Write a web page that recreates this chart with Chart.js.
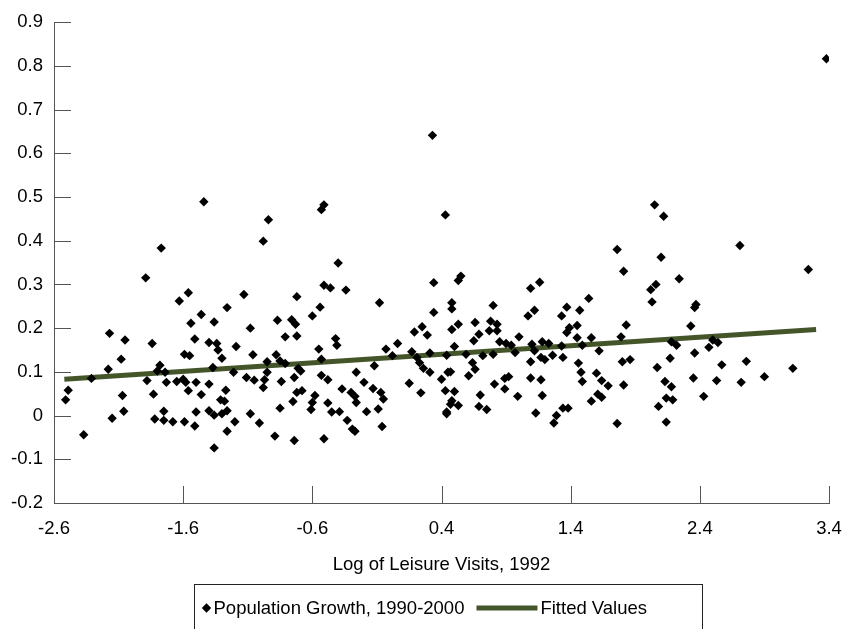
<!DOCTYPE html>
<html>
<head>
<meta charset="utf-8">
<title>Population growth vs leisure visits</title>
<script src="https://cdn.jsdelivr.net/npm/chart.js@4/dist/chart.umd.min.js"></script>
<style>
  html, body { margin: 0; padding: 0; background: #fff; }
  #wrap { width: 866px; height: 629px; }
</style>
</head>
<body>
<div id="wrap"><canvas id="chartScatter" width="866" height="629"></canvas></div>
<script>
// Scatter points, one x/y pair per index.
const popX = [
  -1.44, -1.77, -1.89, -1.56, -1.63, -1.13, -1.26, -1.46, -1.54, -1.36, -1.08, -2.17, -2.05, -1.84, -1.51, -1.40, -1.34,
  -1.33, -1.19, -1.59, -1.55, -1.06, -2.08, -1.30, -2.18, -1.78, -1.80, -1.74, -1.37, -1.21, -2.31, -1.88, -1.73, -1.65,
  -1.60, -1.58, -1.50, -1.40, -1.11, -1.05, -2.49, -2.51, -2.07, -1.83, -1.56, -1.46, -1.27, -1.31, -1.28, -2.06, -1.75,
  -1.50, -1.40, -1.36, -1.30, -1.26, -1.08, -2.15, -1.82, -1.75, -1.68, -1.59, -1.51, -1.20, -1.26, -2.37, -1.36,
  // middle-left
  -0.51, -0.53, -0.94, -0.98, 0.43, -0.40, -0.51, -0.46, -0.34, -0.72, 0.34, -0.08, -0.54, 0.34,
  -0.87, -0.76, -0.73, -0.60, -0.81, -0.72, -0.42, -0.41, -0.55, 0.19, 0.25, 0.29, 0.06, -0.03, -0.88, -0.85, -0.81, -0.95,
  -0.53, 0.02, 0.17, 0.21, 0.31, 0.44, -0.12, 0.23, 0.26, -0.71, -0.69, -0.95, -0.97, -0.26, 0.31, 0.45, -0.74, -0.53,
  -0.48, -0.84, -0.20, -0.98, 0.15, 0.40, -0.37, -0.13, -0.72, -0.68, -0.30, -0.07, 0.24, 0.43, -0.58, -0.27, -0.05, -0.75,
  -0.60, -0.48, -0.26, -0.85, -0.61, -0.45, -0.39, -0.18, -0.09, 0.44, -1.01, -0.33, -0.06, -0.27, -0.29, -0.89, -0.74, -0.51,
  // middle-right
  1.76, 1.81, 0.55, 0.53, 1.16, 1.09, 1.54, 0.48, 0.48, 0.80, 1.12, 1.37, 1.47,
  1.07, 1.33, 0.53, 0.48, 0.66, 0.78, 0.83, 0.77, 0.83, 0.69, 0.65, 1.39, 1.37, 1.45, 1.83, 1.45, 1.56, 1.79, 1.00, 0.85,
  0.90, 0.94, 1.10, 1.18, 1.23, 1.33, 1.49, 0.50, 0.97, 1.12, 1.62, 0.59, 0.72, 0.80, 1.17, 1.20, 1.26, 1.34, 0.64, 0.66,
  1.09, 1.46, 1.80, 1.86, 0.47, 0.61, 0.92, 0.89, 1.09, 1.17, 1.48, 1.60, 1.64, 1.49, 1.69, 1.81, 0.81, 0.89, 0.50, 0.70,
  0.99, 1.18, 1.61, 1.64, 0.48, 0.47, 0.53, 1.56, 0.69, 0.75, 0.44, 1.34, 1.38, 1.13, 1.29, 1.27, 1.76,
  // right
  2.05, 2.12, 2.71, 2.10, 3.24, 2.24, 2.06, 2.02, 2.03, 2.37, 2.36, 2.33, 2.18, 2.22, 2.50, 2.54, 2.47, 2.36, 2.17, 2.07,
  2.57, 2.76, 3.12, 2.13, 2.18, 2.35, 2.53, 2.72, 2.90, 2.43, 2.14, 2.19, 2.08, 2.14, 0.33, 3.38,
];
const popY = [
  0.489, 0.383, 0.315, 0.281, 0.262, 0.277, 0.247, 0.231, 0.211, 0.214, 0.200, 0.188, 0.173, 0.165, 0.175, 0.167, 0.165,
  0.150, 0.158, 0.140, 0.137, 0.139, 0.129, 0.131, 0.106, 0.115, 0.102, 0.099, 0.110, 0.099, 0.085, 0.080, 0.076, 0.078,
  0.083, 0.076, 0.076, 0.072, 0.087, 0.081, 0.058, 0.036, 0.046, 0.049, 0.057, 0.048, 0.058, 0.036, 0.033, 0.010, 0.010,
  0.008, 0.011, 0.001, 0.004, 0.011, 0.004, -0.006, -0.008, -0.011, -0.014, -0.014, -0.024, -0.014, -0.036, -0.044, -0.074,
  // middle-left
  0.482, 0.471, 0.448, 0.399, 0.459, 0.349, 0.298, 0.292, 0.287, 0.272, 0.304, 0.258, 0.248, 0.236,
  0.218, 0.219, 0.209, 0.228, 0.180, 0.182, 0.176, 0.161, 0.152, 0.191, 0.203, 0.184, 0.165, 0.152, 0.139, 0.125, 0.119, 0.123,
  0.129, 0.137, 0.146, 0.133, 0.143, 0.138, 0.114, 0.121, 0.108, 0.108, 0.102, 0.099, 0.082, 0.099, 0.099, 0.099, 0.087, 0.092,
  0.082, 0.078, 0.076, 0.064, 0.074, 0.083, 0.061, 0.062, 0.053, 0.057, 0.053, 0.053, 0.052, 0.057, 0.046, 0.044, 0.038, 0.032,
  0.030, 0.029, 0.030, 0.017, 0.014, 0.008, 0.009, 0.009, 0.015, 0.008, -0.017, -0.011, -0.025, -0.036, -0.031, -0.047, -0.057, -0.053,
  // middle-right
  0.380, 0.330, 0.319, 0.309, 0.305, 0.291, 0.268, 0.258, 0.244, 0.252, 0.241, 0.248, 0.241,
  0.228, 0.228, 0.209, 0.197, 0.213, 0.216, 0.209, 0.194, 0.194, 0.186, 0.171, 0.201, 0.190, 0.206, 0.207, 0.178, 0.178, 0.180, 0.180, 0.169,
  0.165, 0.161, 0.163, 0.169, 0.165, 0.159, 0.161, 0.158, 0.144, 0.148, 0.148, 0.140, 0.137, 0.140, 0.133, 0.128, 0.138, 0.133, 0.121, 0.106,
  0.123, 0.120, 0.123, 0.128, 0.100, 0.091, 0.089, 0.085, 0.086, 0.082, 0.099, 0.097, 0.080, 0.078, 0.068, 0.070, 0.072, 0.061, 0.055, 0.047,
  0.044, 0.046, 0.049, 0.042, 0.034, 0.026, 0.023, 0.033, 0.021, 0.014, 0.004, 0.017, 0.017, 0.006, 0.000, -0.017, -0.018,
  // right
  0.482, 0.456, 0.389, 0.362, 0.334, 0.313, 0.300, 0.288, 0.260, 0.254, 0.247, 0.205, 0.169, 0.161, 0.173, 0.167, 0.156, 0.143, 0.131, 0.110,
  0.116, 0.124, 0.108, 0.078, 0.066, 0.086, 0.080, 0.076, 0.089, 0.044, 0.040, 0.036, 0.021, -0.015, 0.641, 0.816,
];

// Fitted regression line, end points.
const fitX = [-2.52, 3.30];
const fitY = [0.083, 0.197];

const xTickValues = [-2.6, -1.6, -0.6, 0.4, 1.4, 2.4, 3.4];
const yTickValues = [-0.2, -0.1, 0, 0.1, 0.2, 0.3, 0.4, 0.5, 0.6, 0.7, 0.8, 0.9];
const seriesLabels = ['Population Growth, 1990-2000', 'Fitted Values'];
const xTitle = 'Log of Leisure Visits, 1992';

const FONT = { family: '"Liberation Sans", Arial, Helvetica, sans-serif', size: 18.5 };
const AXIS_COLOR = '#555555';
const FIT_COLOR = '#45552a';
const TICK_LEN = 17;

Chart.defaults.color = '#000';
Chart.defaults.font.family = FONT.family;
Chart.defaults.font.size = FONT.size;

// Tick marks point into the plot area, as in the source chart.
const innerTicks = {
  id: 'innerTicks',
  beforeDatasetsDraw(chart) {
    const { ctx, chartArea, scales } = chart;
    ctx.save();
    ctx.strokeStyle = AXIS_COLOR;
    ctx.lineWidth = 1;
    ctx.beginPath();
    scales.y.ticks.forEach((t) => {
      const py = Math.round(scales.y.getPixelForValue(t.value)) + 0.5;
      ctx.moveTo(chartArea.left, py);
      ctx.lineTo(chartArea.left + TICK_LEN, py);
    });
    scales.x.ticks.forEach((t) => {
      const px = Math.round(scales.x.getPixelForValue(t.value)) + 0.5;
      ctx.moveTo(px, chartArea.bottom);
      ctx.lineTo(px, chartArea.bottom - TICK_LEN);
    });
    ctx.stroke();
    ctx.restore();
  },
};

// Boxed legend under the axis title; the box leaves room on its right side.
const legendBox = {
  id: 'legendBox',
  afterDraw(chart) {
    const { ctx, chartArea } = chart;
    const [scatterSet, fitSet] = chart.data.datasets;
    ctx.save();
    ctx.font = `${FONT.size}px ${FONT.family}`;
    const w1 = ctx.measureText(scatterSet.label).width;
    const w2 = ctx.measureText(fitSet.label).width;
    const boxW = Math.round(12 + 7 + w1 + 12 + 61 + 3 + w2 + 55);
    const left = Math.round((chartArea.left + chartArea.right) / 2 - boxW / 2 + 6) + 0.5;
    const top = chart.height - 44.5;
    const cy = chart.height - 21;

    ctx.strokeStyle = '#222';
    ctx.lineWidth = 1;
    ctx.strokeRect(left, top, boxW, 60);

    let x = left + 12;
    ctx.fillStyle = scatterSet.backgroundColor;
    Chart.helpers.drawPoint(ctx, { pointStyle: 'rectRot', radius: 4.7, borderWidth: 0 }, x, cy);
    x += 7;
    ctx.fillStyle = '#000';
    ctx.textBaseline = 'middle';
    ctx.textAlign = 'left';
    ctx.fillText(scatterSet.label, x, cy + 1);
    x += w1 + 12;

    ctx.strokeStyle = fitSet.borderColor;
    ctx.lineWidth = fitSet.borderWidth;
    ctx.beginPath();
    ctx.moveTo(x, cy);
    ctx.lineTo(x + 61, cy);
    ctx.stroke();
    x += 64;
    ctx.fillText(fitSet.label, x, cy + 1);
    ctx.restore();
  },
};

const ctx = document.getElementById('chartScatter').getContext('2d');
new Chart(ctx, {
  type: 'scatter',
  data: {
    datasets: [
      {
        label: seriesLabels[0],
        data: popX.map((x, i) => ({ x, y: popY[i] })),
        pointStyle: 'rectRot',
        pointRadius: 4.7,
        pointBorderWidth: 0,
        backgroundColor: '#000',
        borderColor: '#000',
        order: 0,
      },
      {
        type: 'line',
        label: seriesLabels[1],
        data: fitX.map((x, i) => ({ x, y: fitY[i] })),
        borderColor: FIT_COLOR,
        backgroundColor: FIT_COLOR,
        borderWidth: 5,
        pointRadius: 0,
        fill: false,
        tension: 0,
        order: 1,
      },
    ],
  },
  options: {
    responsive: false,
    animation: false,
    events: [],
    layout: { padding: { top: 20, right: 37, bottom: 53, left: 0 } },
    plugins: {
      legend: { display: false },
      tooltip: { enabled: false },
    },
    scales: {
      x: {
        type: 'linear',
        position: 'bottom',
        min: xTickValues[0],
        max: xTickValues[xTickValues.length - 1],
        afterBuildTicks: (scale) => { scale.ticks = xTickValues.map((v) => ({ value: v })); },
        afterFit: (scale) => { scale.height = 73; },
        grid: { display: false, drawTicks: false },
        border: { display: true, color: AXIS_COLOR, width: 1 },
        ticks: { padding: 15, maxRotation: 0, autoSkip: false, callback: (v) => String(v) },
        title: { display: true, text: xTitle, padding: 0, font: { size: FONT.size } },
      },
      y: {
        type: 'linear',
        min: yTickValues[0],
        max: yTickValues[yTickValues.length - 1],
        afterBuildTicks: (scale) => { scale.ticks = yTickValues.map((v) => ({ value: v })); },
        afterFit: (scale) => { scale.width = 54; },
        grid: { display: false, drawTicks: false },
        border: { display: true, color: AXIS_COLOR, width: 1 },
        ticks: { padding: 11, autoSkip: false, callback: (v) => String(v) },
      },
    },
  },
  plugins: [innerTicks, legendBox],
});
</script>
</body>
</html>
